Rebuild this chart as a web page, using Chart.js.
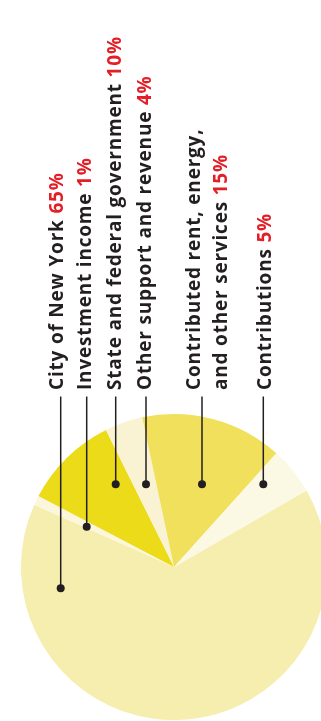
<!DOCTYPE html>
<html>
<head>
<meta charset="utf-8">
<script src="https://cdn.jsdelivr.net/npm/chart.js@4"></script>
<style>
  html, body { margin: 0; padding: 0; background: #fff; overflow: hidden; }
  #wrap { position: absolute; left: 0; top: 0; width: 340px; height: 721px; }
</style>
</head>
<body>
<div id="wrap"><canvas id="revenue-pie" width="340" height="721"></canvas></div>
<script>
// revenue sources, order = clockwise from the right edge of the big slice
var categories = ['City of New York', 'Investment income', 'State and federal government',
  'Other support and revenue', 'Contributed rent, energy,|and other services', 'Contributions'];
var shares = [65, 1, 10, 4, 15, 5];
var sliceColors = ['#f6eeae', '#fbf6dc', '#ecdb18', '#f9f3d3', '#f0e05c', '#fbf8e4'];

// label layout (x of text baseline, x of leader line, dot offset from pie centre)
var textX = [[62.5], [91], [120.5], [150.5], [199.5, 227], [270.5]];
var lineX = [60.7, 86.7, 115.7, 146, 202, 263.3];
var dotDy = [21.3, -40.3, -82.7, -82.7, -82.7, -82.7];
var textBottom = 390;
var lineTop = 396.5;

var FONT = 'bold 19px "Open Sans", sans-serif';
var INK = '#231f20';
var RED = '#e31e26';

var calloutPlugin = {
  id: 'callouts',
  afterDraw: function(chart) {
    var ctx = chart.ctx;
    var meta = chart.getDatasetMeta(0);
    var cx = meta.data[0].x, cy = meta.data[0].y;
    ctx.save();
    for (var i = 0; i < categories.length; i++) {
      var dx = lineX[i], dy = cy + dotDy[i];
      ctx.strokeStyle = INK;
      ctx.lineWidth = 1.5;
      ctx.beginPath();
      ctx.moveTo(dx, lineTop);
      ctx.lineTo(dx, dy);
      ctx.stroke();
      ctx.fillStyle = INK;
      ctx.beginPath();
      ctx.arc(dx, dy, 4, 0, Math.PI * 2);
      ctx.fill();

      var lines = categories[i].split('|');
      for (var j = 0; j < lines.length; j++) {
        ctx.save();
        ctx.translate(textX[i][j], textBottom);
        ctx.rotate(-Math.PI / 2);
        ctx.font = FONT;
        ctx.letterSpacing = '0.8px';
        ctx.textAlign = 'left';
        ctx.textBaseline = 'alphabetic';
        ctx.fillStyle = INK;
        ctx.fillText(lines[j], 0, 0);
        if (j == lines.length - 1) {
          var w = ctx.measureText(lines[j] + ' ').width;
          ctx.fillStyle = RED;
          ctx.fillText(shares[i] + '%', w, 0);
        }
        ctx.restore();
      }
    }
    ctx.restore();
  }
};

var ctx = document.getElementById('revenue-pie').getContext('2d');
var pie = new Chart(ctx, {
  type: 'pie',
  data: {
    labels: categories,
    datasets: [{
      data: shares,
      backgroundColor: sliceColors,
      borderWidth: 0
    }]
  },
  options: {
    responsive: false,
    animation: false,
    rotation: 60,
    layout: { padding: { left: 21, right: 13, top: 414, bottom: 1 } },
    events: [],
    plugins: {
      legend: { display: false },
      tooltip: { enabled: false }
    }
  },
  plugins: [calloutPlugin]
});
</script>
</body>
</html>
